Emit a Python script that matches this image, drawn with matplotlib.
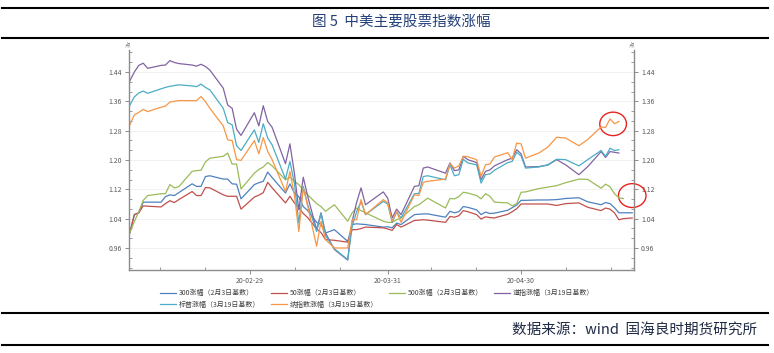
import matplotlib
matplotlib.use('Agg')
import matplotlib.pyplot as plt
import matplotlib.dates as mdates
from matplotlib.lines import Line2D
from matplotlib.patches import Ellipse
from matplotlib.ticker import FixedLocator, MultipleLocator, FormatStrFormatter
import numpy as np
import pandas as pd

plt.rcParams['font.family'] = ['Noto Sans CJK SC', 'DejaVu Sans']

nan = np.nan

dates = ['2020-02-02', '2020-02-03', '2020-02-04', '2020-02-05', '2020-02-06',
         '2020-02-09', '2020-02-10', '2020-02-11', '2020-02-12', '2020-02-13',
         '2020-02-16', '2020-02-17', '2020-02-18', '2020-02-19', '2020-02-20',
         '2020-02-23', '2020-02-24', '2020-02-25', '2020-02-26', '2020-02-27',
         '2020-03-01', '2020-03-02', '2020-03-03', '2020-03-04', '2020-03-05',
         '2020-03-08', '2020-03-09', '2020-03-10', '2020-03-11', '2020-03-12',
         '2020-03-13', '2020-03-15', '2020-03-16', '2020-03-17', '2020-03-19',
         '2020-03-22', '2020-03-23', '2020-03-24', '2020-03-25', '2020-03-26',
         '2020-03-30', '2020-03-31', '2020-04-01', '2020-04-02', '2020-04-03',
         '2020-04-06', '2020-04-07', '2020-04-08', '2020-04-09', '2020-04-13',
         '2020-04-14', '2020-04-15', '2020-04-16', '2020-04-17', '2020-04-18',
         '2020-04-20', '2020-04-21', '2020-04-22', '2020-04-23', '2020-04-24',
         '2020-04-27', '2020-04-28', '2020-04-29', '2020-04-30', '2020-05-01',
         '2020-05-04', '2020-05-06', '2020-05-08', '2020-05-10', '2020-05-13',
         '2020-05-15', '2020-05-18', '2020-05-19', '2020-05-20', '2020-05-21',
         '2020-05-22', '2020-05-23', '2020-05-25']

hs300 = [1.002, 1.051, 1.056, 1.085, 1.085, 1.085, 1.100, 1.105, 1.103, 1.111,
         1.135, 1.128, 1.128, 1.155, 1.157, 1.148, 1.148, 1.135, 1.134, 1.094,
         1.133, 1.138, 1.142, 1.167, 1.152, 1.110, 1.135, 1.110, 1.100, 1.073,
         1.062, 1.030, 1.024, 1.001, 1.010, 0.978, 1.024, 1.026, 1.025, 1.024,
         1.017, 1.018, 1.015, 1.028, 1.024, 1.051, 1.052, 1.053, 1.053, 1.044,
         1.060, 1.056, 1.059, 1.073, 1.071, 1.064, 1.051, 1.058, 1.054, 1.055,
         1.063, 1.070, 1.077, 1.090, 1.090, 1.091, 1.091, 1.092, 1.095, 1.097,
         1.086, 1.078, 1.084, 1.081, 1.070, 1.056, 1.056, 1.056]
sz50 = [1.002, 1.051, 1.056, 1.075, 1.074, 1.072, 1.081, 1.089, 1.084, 1.092,
        1.114, 1.103, 1.103, 1.125, 1.124, 1.105, 1.101, 1.101, 1.101, 1.066,
        1.099, 1.104, 1.111, 1.139, 1.124, 1.083, 1.101, 1.083, 1.070, 1.054,
        1.043, 1.012, 1.002, 0.983, 0.981, 0.976, 1.010, 1.010, 1.013, 1.017,
        1.015, 1.012, 1.008, 1.024, 1.017, 1.035, 1.036, 1.037, 1.036, 1.030,
        1.046, 1.044, 1.048, 1.062, 1.059, 1.051, 1.039, 1.045, 1.043, 1.042,
        1.052, 1.059, 1.067, 1.080, 1.080, 1.080, 1.080, 1.076, 1.081, 1.083,
        1.071, 1.062, 1.069, 1.066, 1.056, 1.037, 1.040, 1.042]
zz500 = [1.002, 1.032, 1.059, 1.090, 1.103, 1.108, 1.108, 1.133, 1.124, 1.127,
         1.169, 1.171, 1.172, 1.195, 1.205, 1.210, 1.219, 1.189, 1.189, 1.121,
         1.164, 1.174, 1.181, 1.193, 1.184, 1.146, 1.153, 1.142, 1.133, 1.118,
         1.105, 1.081, 1.073, 1.060, 1.078, 1.033, 1.056, 1.069, 1.062, 1.056,
         1.033, 1.030, 1.030, 1.037, 1.042, 1.073, 1.078, 1.087, 1.096, 1.069,
         1.095, 1.094, 1.100, 1.112, 1.110, 1.103, 1.094, 1.108, 1.101, 1.085,
         1.083, 1.075, 1.081, 1.112, 1.113, 1.122, 1.126, 1.130, 1.138, 1.148,
         1.147, 1.123, 1.134, 1.127, 1.108, 1.097, 1.095, nan]
dow = [1.416, 1.440, 1.458, 1.464, 1.450, 1.458, 1.459, 1.471, 1.466, 1.463,
       1.459, 1.456, 1.461, 1.455, 1.445, 1.396, 1.350, 1.341, 1.284, 1.267,
       1.329, 1.293, 1.348, 1.305, 1.289, 1.190, 1.244, 1.164, 1.064, 1.153,
       1.101, 1.010, 1.056, 1.001, 0.956, 0.927, 1.033, 1.084, 1.124, 1.078,
       1.113, 1.096, 1.042, 1.066, 1.051, 1.128, 1.130, 1.178, 1.181, 1.164,
       1.192, 1.171, 1.173, 1.210, 1.201, 1.193, 1.146, 1.169, 1.173, 1.184,
       1.201, 1.205, 1.228, 1.217, 1.181, 1.182, 1.186, 1.201, 1.187, 1.160,
       1.182, 1.223, 1.207, 1.223, 1.221, 1.219, nan, nan]
sp500 = [1.350, 1.372, 1.383, 1.388, 1.382, 1.394, 1.398, 1.401, 1.403, 1.405,
         1.402, 1.400, 1.407, 1.398, 1.391, 1.341, 1.302, 1.296, 1.239, 1.226,
         1.282, 1.248, 1.299, 1.260, 1.241, 1.148, 1.196, 1.137, 1.028, 1.128,
         1.078, 1.005, 1.054, 0.994, 0.958, 0.928, 1.019, 1.059, 1.087, 1.051,
         1.087, 1.080, 1.030, 1.058, 1.042, 1.108, 1.109, 1.155, 1.157, 1.146,
         1.187, 1.157, 1.160, 1.202, 1.192, 1.187, 1.137, 1.160, 1.162, 1.172,
         1.193, 1.196, 1.221, 1.211, 1.178, 1.181, 1.187, 1.202, 1.201, 1.184,
         1.201, 1.226, 1.210, 1.232, 1.226, 1.228, nan, nan]
nasdaq = [1.296, 1.323, 1.330, 1.338, 1.332, 1.344, 1.347, 1.358, 1.360, 1.362,
          1.362, 1.362, 1.373, 1.359, 1.341, 1.293, 1.255, 1.253, 1.201, 1.199,
          1.253, 1.217, 1.261, 1.223, 1.201, 1.114, 1.169, 1.105, 1.005, 1.124,
          1.074, 0.965, 1.033, 0.983, 0.960, 0.960, 1.037, 1.037, 1.092, 1.051,
          1.092, 1.083, 1.033, 1.059, 1.030, 1.105, 1.103, 1.139, 1.142, 1.148,
          1.190, 1.178, 1.184, 1.210, 1.209, 1.201, 1.155, 1.187, 1.189, 1.208,
          1.220, 1.201, 1.246, 1.244, 1.205, 1.219, 1.235, 1.262, 1.260, 1.239,
          1.256, 1.290, 1.289, 1.312, 1.299, 1.305, nan, nan]

labels = ['300涨幅（2月3日基数）', '50涨幅（2月3日基数）', '500涨幅（2月3日基数）',
          '道指涨幅（3月19日基数）', '标普涨幅（3月19日基数）', '纳指数涨幅（3月19日基数）']
colors = ['#4F81BD', '#C0504D', '#9BBB59', '#8064A2', '#4BACC6', '#F79646']
major_dates = ['2020-02-29', '2020-03-31', '2020-04-30']

x = pd.to_datetime(dates)
series = [hs300, sz50, zz500, dow, sp500, nasdaq]

fig = plt.figure(figsize=(7.74, 3.53), dpi=100)
ax = fig.add_axes([129 / 774, 1 - 270 / 353, 505 / 774, 220 / 353])

lines = []
for vals, lab, c in zip(series, labels, colors):
    ln, = ax.plot(x, vals, color=c, lw=0.9, label=lab)
    lines.append(ln)

ax.set_ylim(0.90, 1.50)
ax.set_xlim(mdates.date2num(pd.Timestamp('2020-02-02')) - 0.2,
            mdates.date2num(pd.Timestamp('2020-05-25')) + 0.4)

ax.yaxis.set_major_locator(FixedLocator([0.96, 1.04, 1.12, 1.20, 1.28, 1.36, 1.44]))
ax.yaxis.set_minor_locator(MultipleLocator(0.08 / 3))
ax.yaxis.set_major_formatter(FormatStrFormatter('%.2f'))

mj = mdates.date2num(pd.to_datetime(major_dates))
step = (mj[-1] - mj[0]) / 2
minors = []
for k in range(-2, 3 * len(mj)):
    t = mj[0] + k * step / 3
    if k % 3 != 0:
        minors.append(t)
ax.xaxis.set_major_locator(FixedLocator(mj))
ax.xaxis.set_minor_locator(FixedLocator(minors))
ax.xaxis.set_major_formatter(mdates.DateFormatter('%y-%m-%d'))

ax.grid(axis='y', which='major', color='#F0F0F0', lw=0.6)
ax.set_axisbelow(True)
for s in ['left', 'right', 'bottom']:
    ax.spines[s].set_color('#8C8C8C')
    ax.spines[s].set_linewidth(1.0)
ax.spines['top'].set_visible(False)

ax.tick_params(which='major', direction='out', length=3, width=0.7, color='#8C8C8C',
               labelsize=5, labelcolor='#595959', pad=2,
               left=True, right=True, labelleft=True, labelright=True)
ax.tick_params(which='minor', direction='in', length=2.5, width=0.6, color='#8C8C8C',
               left=True, right=True)

ax.text(-0.002, 1.01, '点', transform=ax.transAxes, fontsize=4, color='#777777',
        ha='center', va='bottom')
ax.text(0.995, 1.01, '点', transform=ax.transAxes, fontsize=4, color='#777777',
        ha='center', va='bottom')

# red highlight circles
day = mdates.date2num(pd.Timestamp('2020-02-29'))
for cx, cy, w, h in [(day + 81.7, 1.2985, 6.0, 0.064), (day + 86.0, 1.103, 6.2, 0.065)]:
    ax.add_patch(Ellipse((cx, cy), w, h, fill=False, ec='#E8231F', lw=1.0, clip_on=False))

order = [0, 4, 1, 5, 2, 3]
fig.legend([lines[i] for i in order], [labels[i] for i in order], loc='center',
           bbox_to_anchor=(0.487, 0.153), ncol=4, frameon=False, fontsize=5,
           handlelength=2.3, handletextpad=0.4, columnspacing=1.6, labelspacing=0.5,
           labelcolor='#404040')

for yy in [1 - 8 / 353, 1 - 38 / 353, 1 - 313 / 353, 1 - 345 / 353]:
    fig.add_artist(Line2D([0.003, 0.992], [yy, yy], color='black', lw=1.5))

fig.text(401 / 774, 1 - 21 / 353, '图 5  中美主要股票指数涨幅', ha='center', va='center',
         fontsize=10.5, color='#24407A')
fig.text(757 / 774, 1 - 330 / 353, '数据来源：wind  国海良时期货研究所', ha='right',
         va='center', fontsize=10.5, color='#1F2A44')

fig.savefig('out.png', dpi=100)
